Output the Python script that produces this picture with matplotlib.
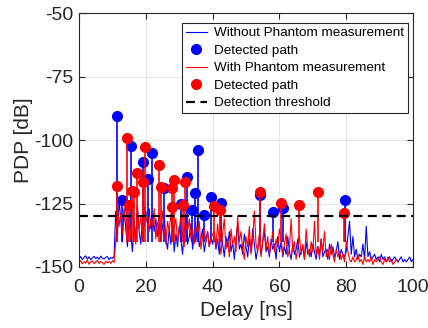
import matplotlib.pyplot as plt
import numpy as np

plt.rcParams['font.family'] = ['Liberation Sans', 'DejaVu Sans']
plt.rcParams['axes.unicode_minus'] = False

# sample step of the PDP traces [ns]
dt = 0.5

# PDP without phantom (blue), 0 .. 100 ns
pdp_blue = [
    -146.8, -145.9, -147.1, -146.2, -145.6, -146.9, -146.0, -147.2, -146.4, -145.8, -146.7,
    -146.1, -147.0, -145.7, -146.5, -146.9, -146.2, -145.9, -147.1, -146.3, -146.6, -145.8,
    # 11 .. 40 ns
    -128, -138, -124, -131, -140, -127, -135, -142, -129, -137, -144, -132, -139, -126, -136,
    -141, -130, -134, -128, -133, -127, -135, -130, -136, -131, -138, -133, -140, -134, -129,
    -139, -143, -135, -141, -132, -144, -137, -142, -134, -139, -145, -136, -130, -141, -138,
    -133, -143, -137, -140, -131, -142, -139, -135, -144, -140, -136, -142, -138, -141,
    # 40.5 .. 60 ns
    -137, -143, -139, -145, -134, -141, -146, -138, -142, -136, -144, -140, -147, -139, -133,
    -143, -141, -145, -137, -142, -146, -139, -144, -135, -141, -147, -143, -138, -145, -140,
    -136, -144, -142, -146, -139, -143, -141, -147, -138, -144,
    # 60.5 .. 80 ns
    -140, -146, -142, -145, -138, -144, -147, -141, -145, -143, -139, -146, -144, -142, -147,
    -140, -145, -143, -146, -141, -144, -147, -142, -145, -139, -146, -144, -143, -147, -141,
    -145, -142, -146, -144, -140, -147, -143, -145, -146, -144,
    # 80.5 .. 100 ns
    -138, -132, -145, -138, -146, -143, -147, -145, -146, -141, -147, -134, -146, -144, -147,
    -146, -145, -147, -146, -148, -145, -147, -146, -148, -147, -146, -148, -147, -146, -147,
    -148, -147, -146, -148, -147, -148, -147, -146, -148, -147,
]

# PDP with phantom (red), 0 .. 95.5 ns
pdp_red = [
    -148.2, -147.5, -148.8, -147.9, -148.5, -147.3, -148.9, -148.1, -147.6, -148.7, -148.0,
    -147.4, -148.6, -147.8, -148.3, -149.0, -147.7, -148.4, -147.9, -148.6, -147.5, -148.2,
    # 11 .. 40 ns
    -140, -126, -134, -129, -137, -131, -125, -136, -130, -139,
    -127, -133, -141, -128, -135, -130, -138, -126, -132, -129,
    -136, -131, -134, -127, -139, -133, -130, -137, -128, -135,
    -141, -132, -136, -129, -138, -134, -131, -140, -135, -130,
    -137, -142, -133, -136, -131, -139, -135, -141, -134, -137,
    -132, -143, -138, -135, -140, -136, -142, -139, -137,
    # 40.5 .. 60 ns
    -136, -142, -133, -140, -145, -137, -131, -143, -139, -146,
    -135, -141, -138, -144, -130, -140, -136, -143, -147, -138,
    -142, -134, -145, -139, -128, -141, -144, -137, -146, -140,
    -133, -143, -138, -145, -141, -136, -144, -139, -142, -135,
    # 60.5 .. 80 ns
    -139, -145, -141, -137, -146, -143, -131, -144, -140, -147,
    -142, -138, -145, -141, -147, -135, -143, -146, -140, -144,
    -132, -145, -142, -147, -139, -144, -136, -146, -143, -147,
    -141, -145, -148, -143, -146, -144, -147, -145, -148, -140,
    # 80.5 .. 95.5 ns
    -144, -147, -148, -146, -148, -147, -145, -148, -147, -149,
    -146, -148, -147, -148, -146, -149, -147, -148, -147, -146,
    -148, -149, -147, -148, -146, -148, -147, -149, -148, -147, -148,
]

# detected paths
blue_delay = [11.3, 12.8, 15.6, 19.3, 20.8, 21.9, 25.5, 30.5, 32.2, 33.7, 34.7,
              35.5, 37.4, 39.4, 42.5, 54.2, 58.0, 61.0, 79.6]
blue_pdp = [-90.6, -123.6, -102.2, -108.8, -115.4, -105.2, -118.8, -125.0, -114.5, -127.6, -120.8,
            -104.0, -129.6, -122.5, -124.8, -121.7, -128.3, -126.7, -123.6]

red_delay = [11.4, 14.4, 14.9, 15.9, 16.6, 17.5, 19.3, 19.8, 24.0, 24.4, 27.7,
             27.9, 28.5, 31.2, 31.6, 40.4, 42.2, 54.2, 60.5, 65.9, 71.6, 79.3]
red_pdp = [-118.0, -99.3, -125.6, -120.0, -120.3, -113.0, -116.7, -102.9, -109.7, -118.3, -126.3,
           -118.8, -115.7, -125.6, -116.4, -126.0, -127.6, -120.3, -124.7, -125.5, -120.3, -128.9]

threshold = -130

t_blue = np.arange(len(pdp_blue)) * dt
t_red = np.arange(len(pdp_red)) * dt

fig = plt.figure(figsize=(4.28, 3.28), dpi=100)
ax = fig.add_axes([0.1846, 0.186, 0.7804, 0.774])

ax.plot(t_blue, pdp_blue, color='#0000ff', lw=0.8, label='Without Phantom measurement')
ax.vlines(blue_delay, -140, blue_pdp, color='#0000ff', lw=1.2)
ax.plot(blue_delay, blue_pdp, 'o', color='#0000ff', ms=7, label='Detected path')
ax.plot(t_red, pdp_red, color='#ff0000', lw=0.8, label='With Phantom measurement')
ax.vlines(red_delay, -140, red_pdp, color='#ff0000', lw=1.2)
ax.plot(red_delay, red_pdp, 'o', color='#ff0000', ms=7, label='Detected path')
ax.axhline(threshold, color='k', ls=(0, (4, 2.5)), lw=1.6, label='Detection threshold')

ax.set_xlim(0, 100)
ax.set_ylim(-150, -50)
ax.set_xticks([0, 20, 40, 60, 80, 100])
ax.set_yticks([-150, -125, -100, -75, -50])
ax.grid(True, color='#e3e3e3', lw=0.6)
ax.set_axisbelow(True)
ax.tick_params(direction='in', top=True, right=True, labelsize=14, colors='#262626', length=4)
ax.tick_params(axis='x', pad=9)
ax.tick_params(axis='y', pad=4)
for s in ax.spines.values():
    s.set_color('#262626')
    s.set_linewidth(0.8)
ax.set_xlabel('Delay [ns]', fontsize=15, color='#262626', labelpad=3)
ax.set_ylabel('PDP [dB]', fontsize=15, color='#262626', labelpad=1)

leg = ax.legend(loc='upper right', bbox_to_anchor=(0.985, 0.962), borderaxespad=0,
                fontsize=9.7, fancybox=False, edgecolor='#262626', framealpha=1,
                handlelength=1.6, handletextpad=0.5, labelspacing=0.38, borderpad=0.3,
                numpoints=1)
leg.get_frame().set_linewidth(0.8)

plt.savefig('out.png', dpi=100)
